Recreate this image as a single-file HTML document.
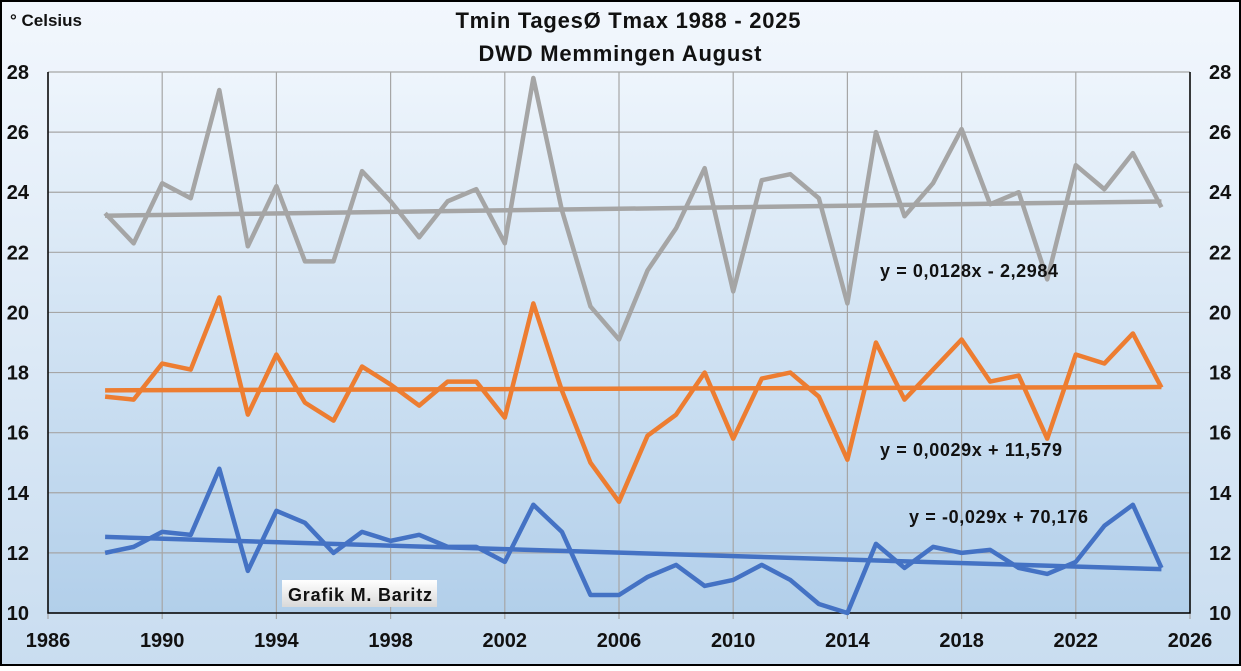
<!DOCTYPE html>
<html><head><meta charset="utf-8">
<style>
html,body{margin:0;padding:0;}
body{width:1241px;height:666px;overflow:hidden;font-family:"Liberation Sans",sans-serif;}
svg text{font-family:"Liberation Sans",sans-serif;font-weight:bold;fill:#111;}
</style></head>
<body>
<svg id="chart" width="1241" height="666" xmlns="http://www.w3.org/2000/svg">
<defs>
<linearGradient id="bg" x1="0" y1="0" x2="0" y2="1">
<stop offset="0" stop-color="#f2f7fd"/><stop offset="1" stop-color="#c9ddf0"/>
</linearGradient>
<linearGradient id="pbg" x1="0" y1="0" x2="0" y2="1">
<stop offset="0" stop-color="#eef5fc"/><stop offset="1" stop-color="#b2cfea"/>
</linearGradient>
<linearGradient id="lbl" x1="0" y1="0" x2="0" y2="1">
<stop offset="0" stop-color="#ffffff"/><stop offset="1" stop-color="#d9d9d9"/>
</linearGradient>
</defs>
<rect x="1" y="1" width="1239" height="664" fill="url(#bg)" stroke="#000" stroke-width="2"/>
<rect x="48" y="72" width="1142" height="541" fill="url(#pbg)"/>
<g id="grid"></g>
<g id="axes"></g>
<g id="series"></g>
<text x="10" y="26" font-size="17">° Celsius</text>
<text x="628" y="28" font-size="22" text-anchor="middle" textLength="345">Tmin TagesØ Tmax 1988 - 2025</text>
<text x="620" y="61" font-size="22" text-anchor="middle" textLength="283">DWD Memmingen August</text>
<text x="880" y="277" font-size="18" textLength="178">y = 0,0128x - 2,2984</text>
<text x="880" y="456" font-size="18" textLength="182">y = 0,0029x + 11,579</text>
<text x="909" y="523" font-size="18" textLength="179">y = -0,029x + 70,176</text>
<g>
<rect x="282" y="580" width="155" height="27" fill="url(#lbl)"/>
<text x="288" y="601" font-size="18" textLength="144">Grafik M. Baritz</text>
</g>
</svg>
<script>
const years=[];for(let y=1988;y<=2025;y++)years.push(y);
const tmax=[23.3,22.3,24.3,23.8,27.4,22.2,24.2,21.7,21.7,24.7,23.7,22.5,23.7,24.1,22.3,27.8,23.4,20.2,19.1,21.4,22.8,24.8,20.7,24.4,24.6,23.8,20.3,26.0,23.2,24.3,26.1,23.6,24.0,21.1,24.9,24.1,25.3,23.5];
const tmean=[17.2,17.1,18.3,18.1,20.5,16.6,18.6,17.0,16.4,18.2,17.6,16.9,17.7,17.7,16.5,20.3,17.4,15.0,13.7,15.9,16.6,18.0,15.8,17.8,18.0,17.2,15.1,19.0,17.1,18.1,19.1,17.7,17.9,15.8,18.6,18.3,19.3,17.5];
const tmin=[12.0,12.2,12.7,12.6,14.8,11.4,13.4,13.0,12.0,12.7,12.4,12.6,12.2,12.2,11.7,13.6,12.7,10.6,10.6,11.2,11.6,10.9,11.1,11.6,11.1,10.3,10.0,12.3,11.5,12.2,12.0,12.1,11.5,11.3,11.7,12.9,13.6,11.5];
const xTicks=[1986,1990,1994,1998,2002,2006,2010,2014,2018,2022,2026];
const yTicks=[10,12,14,16,18,20,22,24,26,28];
const X0=48,X1=1190,Y0=613,Y1=72;
const xs=v=>X0+(v-1986)/(2026-1986)*(X1-X0);
const ys=v=>Y0-(v-10)/(28-10)*(Y0-Y1);
const NS="http://www.w3.org/2000/svg";
function mk(tag,attrs,parent){const e=document.createElementNS(NS,tag);for(const k in attrs)e.setAttribute(k,attrs[k]);parent.appendChild(e);return e;}
const grid=document.getElementById('grid'),axes=document.getElementById('axes'),series=document.getElementById('series');
yTicks.forEach(t=>{
 const l=mk('line',{x1:X0,x2:X1,y1:ys(t),y2:ys(t),stroke:'#a6a6a6','stroke-width':1.2},grid);
 
 
 const a=mk('text',{x:29,y:ys(t)+7,'font-size':20,'text-anchor':'end'},axes);a.textContent=t;
 
 
 const b=mk('text',{x:1209,y:ys(t)+7,'font-size':20},axes);b.textContent=t;
 
 
});
xTicks.forEach(t=>{
 const l=mk('line',{x1:xs(t),x2:xs(t),y1:Y1,y2:Y0+6,stroke:'#a6a6a6','stroke-width':1.2},grid);
 
 
 const a=mk('text',{x:xs(t),y:647,'font-size':20,'text-anchor':'middle'},axes);a.textContent=t;
 
 
});
const ax=mk('path',{d:`M${X0},${Y1}V${Y0}H${X1}V${Y1}`,fill:'none',stroke:'#000','stroke-width':1.5},axes);


function trend(vals){const n=vals.length;let sx=0,sy=0,sxy=0,sxx=0;years.forEach((x,i)=>{sx+=x;sy+=vals[i];sxy+=x*vals[i];sxx+=x*x;});const m=(n*sxy-sx*sy)/(n*sxx-sx*sx);return [m,(sy-m*sx)/n];}
function draw(vals,color,name){
 const p=mk('polyline',{points:years.map((y,i)=>xs(y)+','+ys(vals[i])).join(' '),fill:'none',stroke:color,'stroke-width':4.5,'stroke-linejoin':'round'},series);
 
 
 const [m,b]=trend(vals);const a=years[0],z=years[years.length-1];
 const t=mk('line',{x1:xs(a),y1:ys(m*a+b),x2:xs(z),y2:ys(m*z+b),stroke:color,'stroke-width':4.5},series);
 
 
}
draw(tmax,'#a5a5a5','tmax');
draw(tmean,'#ed7d31','tmean');
draw(tmin,'#4472c4','tmin');
</script>
</body></html>
